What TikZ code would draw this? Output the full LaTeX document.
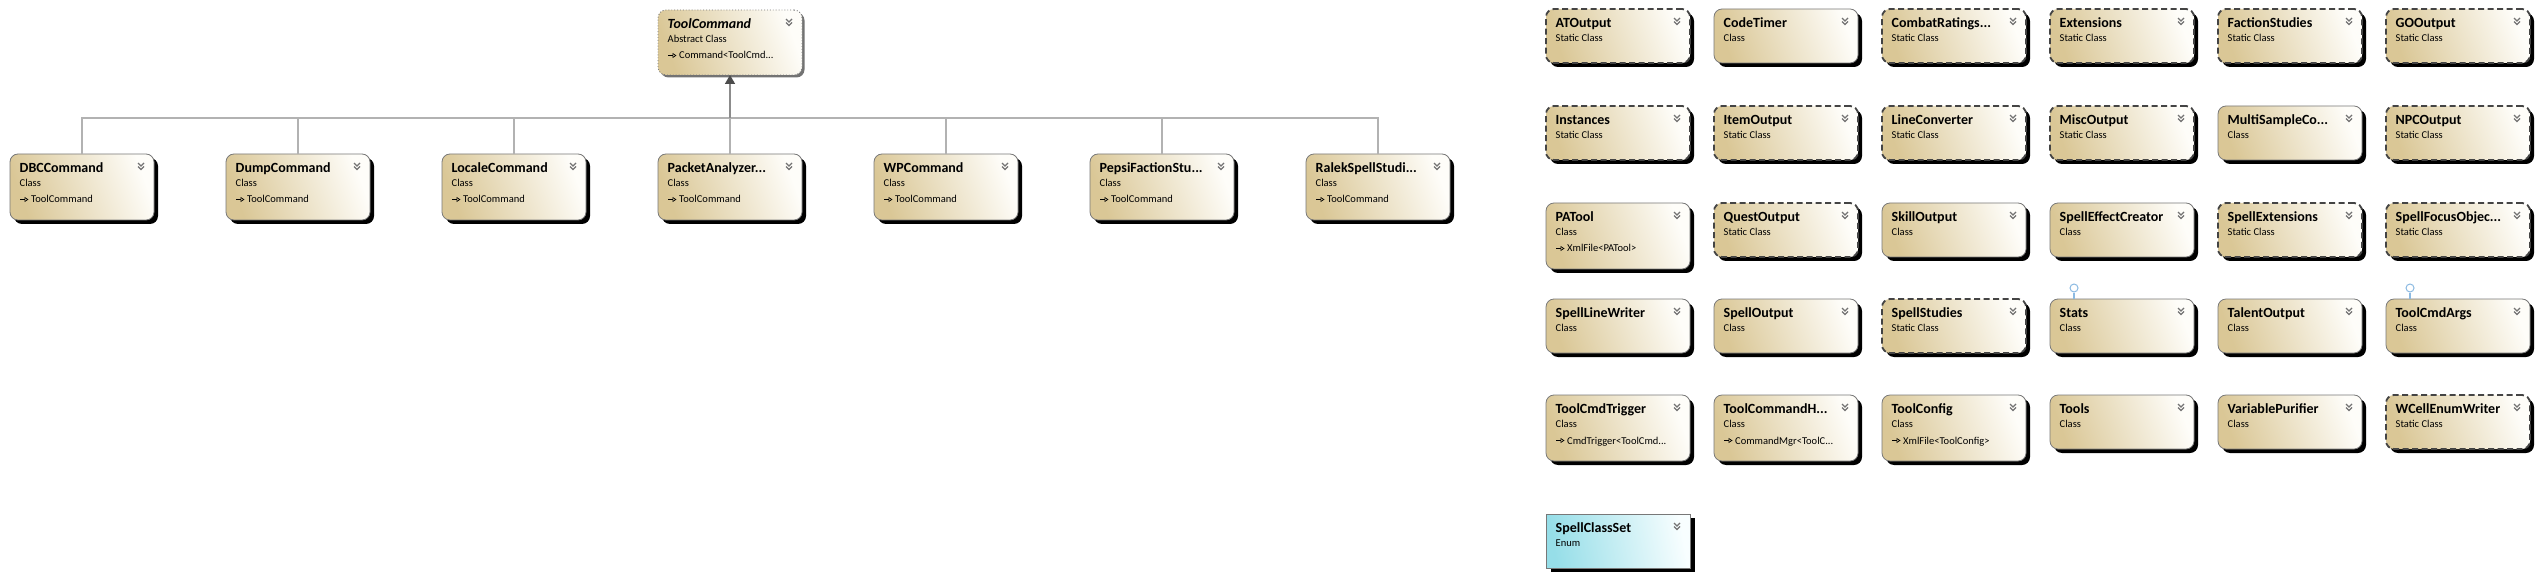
\documentclass[tikz,border=0pt]{standalone}
\usepackage{fontspec}
\setmainfont{Carlito}
\usetikzlibrary{arrows.meta,shadows}
\definecolor{tanA}{RGB}{218,199,150}
\definecolor{tanB}{RGB}{254,253,249}
\definecolor{cyanA}{RGB}{150,222,232}
\definecolor{cyanB}{RGB}{248,254,255}
\definecolor{bord}{RGB}{120,120,120}
\definecolor{dashc}{RGB}{68,68,68}
\definecolor{linec}{RGB}{178,178,178}
\definecolor{trunkc}{RGB}{140,140,140}
\definecolor{chevc}{RGB}{115,115,115}
\definecolor{lolc}{RGB}{140,186,226}
\tikzset{
  basebox/.style={anchor=north west, inner sep=0pt, outer sep=0pt, minimum width=144pt},
  cls/.style={basebox, rounded corners=8pt, draw=bord, line width=0.8pt, shading=axis,
    left color=tanA, right color=tanB, shading angle=110,
    drop shadow={shadow xshift=4pt, shadow yshift=-4pt, fill=black, opacity=1}},
  scls/.style={cls, draw=dashc, line width=1.8pt, dash pattern=on 6pt off 3.5pt},
  abscls/.style={basebox, rounded corners=8pt, draw=bord, line width=0.9pt, dotted, shading=axis,
    left color=tanA, right color=tanB, shading angle=110,
    drop shadow={shadow xshift=2.5pt, shadow yshift=-2.5pt, fill=black!55, opacity=1}},
  enumbox/.style={basebox, draw=bord, line width=0.8pt, shading=axis,
    left color=cyanA, right color=cyanB, shading angle=100,
    drop shadow={shadow xshift=5pt, shadow yshift=-4pt, fill=black, opacity=1}},
  ttl/.style={anchor=base west, inner sep=0pt, font=\fontsize{14}{15}\selectfont\bfseries},
  sub/.style={anchor=base west, inner sep=0pt, font=\fontsize{10.5}{12}\selectfont},
  chevline/.style={draw=chevc, line width=1.3pt},
  genline/.style={draw=linec, line width=1.2pt},
  trunk/.style={draw=trunkc, line width=1.5pt, -{Triangle[length=9pt,width=10pt,fill=black!70,color=black!70]}},
  implarrow/.style={line width=0.7pt, -{Triangle[open,length=4pt,width=5pt]}},
  lolli/.style={circle, draw=lolc, fill=white, line width=1pt, minimum size=8pt, inner sep=0pt},
  lolline/.style={draw=lolc, line width=1.2pt},
}
\newcommand\drawchev[1]{%
  \draw[chevline] ([xshift=-16pt,yshift=-9pt]#1.north east) -- ++(3pt,-3pt) -- ++(3pt,3pt)
    ([xshift=-16pt,yshift=-12.5pt]#1.north east) -- ++(3pt,-3pt) -- ++(3pt,3pt);}
% #1 style, #2 name, #3 x, #4 y, #5 height, #6 title, #7 subtitle
\newcommand\drawcls[7]{%
  \node[#1, minimum height=#5pt] (#2) at (#3,-#4) {};
  \node[ttl] (#2-t) at ([xshift=9.5pt,yshift=-18.5pt]#2.north west) {#6};
  \node[sub] (#2-s) at ([xshift=9.5pt,yshift=-32.5pt]#2.north west) {#7};
  \drawchev{#2}}
\newcommand\drawthird[2]{%
  \coordinate (#1-a) at ([xshift=10pt,yshift=-45.5pt]#1.north west);
  \draw[implarrow] (#1-a) -- ++(8.5pt,0);
  \node[sub] (#1-b) at ([xshift=21pt,yshift=-49pt]#1.north west) {#2};}
\begin{document}
\begin{tikzpicture}[x=1pt,y=1pt]
\useasboundingbox (0,0) rectangle (2539,-577);
% ---- inheritance tree ----
\drawcls{abscls}{tc}{658}{10}{65}{\itshape ToolCommand}{Abstract Class}
\drawthird{tc}{Command<ToolCmd...}
\drawcls{cls}{dbc}{10}{154}{66}{DBCCommand}{Class}
\drawthird{dbc}{ToolCommand}
\drawcls{cls}{dump}{226}{154}{66}{DumpCommand}{Class}
\drawthird{dump}{ToolCommand}
\drawcls{cls}{locale}{442}{154}{66}{LocaleCommand}{Class}
\drawthird{locale}{ToolCommand}
\drawcls{cls}{packet}{658}{154}{66}{PacketAnalyzer...}{Class}
\drawthird{packet}{ToolCommand}
\drawcls{cls}{wp}{874}{154}{66}{WPCommand}{Class}
\drawthird{wp}{ToolCommand}
\drawcls{cls}{pepsi}{1090}{154}{66}{PepsiFactionStu...}{Class}
\drawthird{pepsi}{ToolCommand}
\drawcls{cls}{ralek}{1306}{154}{66}{RalekSpellStudi...}{Class}
\drawthird{ralek}{ToolCommand}
\coordinate (bus) at (730,-118);
\foreach \c in {dbc,dump,locale,packet,wp,pepsi,ralek}{
  \draw[genline] (\c.north) |- (bus);
}
\draw[trunk] (bus) -- (tc.south);
% ---- grid ----
% row 1
\drawcls{scls}{atout}{1546}{9}{54}{ATOutput}{Static Class}
\drawcls{cls}{codetimer}{1714}{9}{54}{CodeTimer}{Class}
\drawcls{scls}{combat}{1882}{9}{54}{CombatRatings...}{Static Class}
\drawcls{scls}{ext}{2050}{9}{54}{Extensions}{Static Class}
\drawcls{scls}{faction}{2218}{9}{54}{FactionStudies}{Static Class}
\drawcls{scls}{goout}{2386}{9}{54}{GOOutput}{Static Class}
% row 2
\drawcls{scls}{inst}{1546}{106}{54}{Instances}{Static Class}
\drawcls{scls}{itemout}{1714}{106}{54}{ItemOutput}{Static Class}
\drawcls{scls}{lineconv}{1882}{106}{54}{LineConverter}{Static Class}
\drawcls{scls}{miscout}{2050}{106}{54}{MiscOutput}{Static Class}
\drawcls{cls}{multi}{2218}{106}{54}{MultiSampleCo...}{Class}
\drawcls{scls}{npcout}{2386}{106}{54}{NPCOutput}{Static Class}
% row 3
\drawcls{cls}{patool}{1546}{203}{66}{PATool}{Class}
\drawthird{patool}{XmlFile<PATool>}
\drawcls{scls}{questout}{1714}{203}{54}{QuestOutput}{Static Class}
\drawcls{cls}{skillout}{1882}{203}{54}{SkillOutput}{Class}
\drawcls{cls}{effect}{2050}{203}{54}{SpellEffectCreator}{Class}
\drawcls{scls}{spellext}{2218}{203}{54}{SpellExtensions}{Static Class}
\drawcls{scls}{focus}{2386}{203}{54}{SpellFocusObjec...}{Static Class}
% row 4
\drawcls{cls}{linewriter}{1546}{299}{54}{SpellLineWriter}{Class}
\drawcls{cls}{spellout}{1714}{299}{54}{SpellOutput}{Class}
\drawcls{scls}{studies}{1882}{299}{54}{SpellStudies}{Static Class}
\drawcls{cls}{stats}{2050}{299}{54}{Stats}{Class}
\drawcls{cls}{talent}{2218}{299}{54}{TalentOutput}{Class}
\drawcls{cls}{cmdargs}{2386}{299}{54}{ToolCmdArgs}{Class}
\node[lolli] (statsI) at ([xshift=24pt,yshift=11pt]stats.north west) {};
\draw[lolline] (statsI.south) -- (statsI.south |- stats.north);
\node[lolli] (cmdargsI) at ([xshift=24pt,yshift=11pt]cmdargs.north west) {};
\draw[lolline] (cmdargsI.south) -- (cmdargsI.south |- cmdargs.north);
% row 5
\drawcls{cls}{trigger}{1546}{395}{66}{ToolCmdTrigger}{Class}
\drawthird{trigger}{CmdTrigger<ToolCmd...}
\drawcls{cls}{handler}{1714}{395}{66}{ToolCommandH...}{Class}
\drawthird{handler}{CommandMgr<ToolC...}
\drawcls{cls}{config}{1882}{395}{66}{ToolConfig}{Class}
\drawthird{config}{XmlFile<ToolConfig>}
\drawcls{cls}{tools}{2050}{395}{54}{Tools}{Class}
\drawcls{cls}{purifier}{2218}{395}{54}{VariablePurifier}{Class}
\drawcls{scls}{wcell}{2386}{395}{54}{WCellEnumWriter}{Static Class}
% row 6
\drawcls{enumbox}{classset}{1546}{514}{54}{SpellClassSet}{Enum}
\end{tikzpicture}
\end{document}
